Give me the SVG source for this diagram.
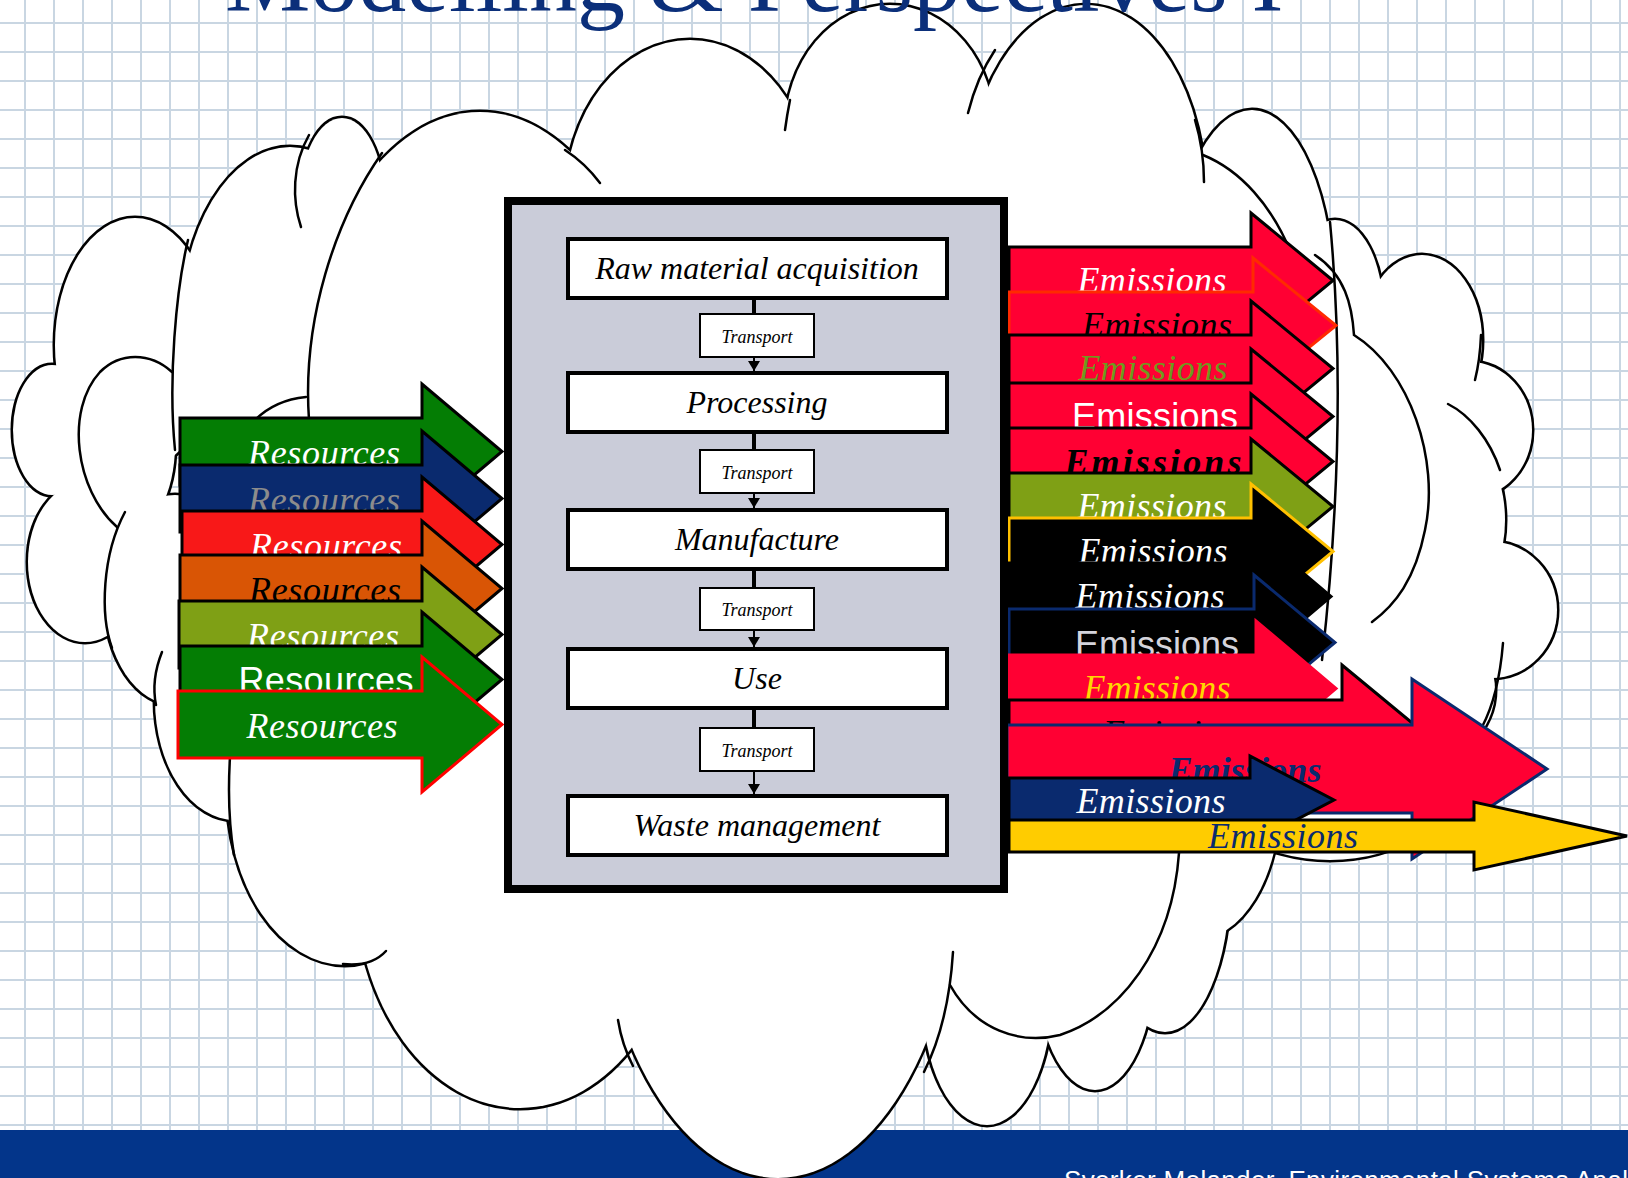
<svg xmlns="http://www.w3.org/2000/svg" xmlns:xlink="http://www.w3.org/1999/xlink" width="1628" height="1178" viewBox="0 0 1628 1178">
<defs>
<pattern id="grid" patternUnits="userSpaceOnUse" x="24" y="22" width="29" height="29">
<rect x="0" y="0" width="2" height="29" fill="#c9d6e2"/>
<rect x="0" y="0" width="29" height="2" fill="#c9d6e2"/>
</pattern>
<g id="lobes">
<ellipse cx="52" cy="430" rx="39" ry="65"/>
<ellipse cx="135" cy="345" rx="80" ry="127"/>
<ellipse cx="125" cy="445" rx="50" ry="90"/>
<ellipse cx="80" cy="490" rx="25" ry="25"/>
<ellipse cx="85" cy="562" rx="57" ry="80"/>
<ellipse cx="175" cy="600" rx="70" ry="105"/>
<ellipse cx="235" cy="700" rx="80" ry="120"/>
<ellipse cx="345" cy="790" rx="118" ry="175"/>
<ellipse cx="520" cy="880" rx="165" ry="228"/>
<ellipse cx="778" cy="840" rx="185" ry="338"/>
<ellipse cx="987" cy="995" rx="65" ry="130"/>
<ellipse cx="1050" cy="850" rx="130" ry="186"/>
<ellipse cx="1095" cy="960" rx="60" ry="130"/>
<ellipse cx="1165" cy="880" rx="65" ry="152"/>
<ellipse cx="1195" cy="800" rx="85" ry="140"/>
<ellipse cx="290" cy="330" rx="110" ry="183"/>
<ellipse cx="342" cy="200" rx="42" ry="82"/>
<ellipse cx="480" cy="390" rx="175" ry="278"/>
<ellipse cx="690" cy="200" rx="125" ry="160"/>
<ellipse cx="890" cy="130" rx="105" ry="125"/>
<ellipse cx="1086" cy="200" rx="120" ry="195"/>
<ellipse cx="1252" cy="300" rx="82" ry="190"/>
<ellipse cx="1280" cy="520" rx="70" ry="230"/>
<ellipse cx="1335" cy="310" rx="48" ry="90"/>
<ellipse cx="1365" cy="415" rx="50" ry="45"/>
<ellipse cx="1422" cy="340" rx="60" ry="85"/>
<ellipse cx="1470" cy="430" rx="62" ry="68"/>
<ellipse cx="1400" cy="520" rx="105" ry="122"/>
<ellipse cx="1365" cy="640" rx="55" ry="55"/>
<ellipse cx="1492" cy="610" rx="65" ry="68"/>
<ellipse cx="1415" cy="690" rx="80" ry="75"/>
<ellipse cx="1330" cy="770" rx="130" ry="90"/>
<ellipse cx="760" cy="560" rx="520" ry="400"/>
</g>
<marker id="ah" markerUnits="userSpaceOnUse" markerWidth="11" markerHeight="12" refX="10" refY="6" orient="auto">
<path d="M0,0 L10,6 L0,12 Z" fill="#000"/>
</marker>
</defs>
<style>
.cloud-s{fill:#fff;stroke:#000;stroke-width:5}
.cloud-f{fill:#fff;stroke:none}
.hook{fill:none;stroke:#000;stroke-width:2.5;stroke-linecap:round}
.arr path{stroke-width:3;stroke-linejoin:miter}
.ti{font-family:"Liberation Serif","Times New Roman",serif;font-style:italic;font-size:36px;text-anchor:middle}
.ts{font-family:"Liberation Sans",Arial,sans-serif;font-size:36px;text-anchor:middle}
.stage rect{fill:#fff;stroke:#000;stroke-width:4}
.stage text{font-family:"Liberation Serif","Times New Roman",serif;font-style:italic;font-size:32px;text-anchor:middle;fill:#000}
.tr rect{fill:#fff;stroke:#000;stroke-width:2}
.tr text{font-family:"Liberation Serif","Times New Roman",serif;font-style:italic;font-size:18px;text-anchor:middle;fill:#000}
.conn-thick{stroke:#000;stroke-width:4}
.conn-arrow{stroke:#000;stroke-width:2;marker-end:url(#ah)}
</style>
<rect x="0" y="0" width="1628" height="1178" fill="#fff"/>
<rect x="0" y="0" width="1628" height="1178" fill="url(#grid)"/>
<g id="footer">
<rect x="0" y="1130" width="1628" height="48" fill="#03358a"/>
<text x="1064" y="1189" font-family="Liberation Sans, Arial, sans-serif" font-size="26" fill="#fff" textLength="564">Sverker Melander, Environmental Systems Anal</text>
</g>
<g id="cloud">
<use xlink:href="#lobes" class="cloud-s"/>
<use xlink:href="#lobes" class="cloud-f"/>
<g class="hook">
<path d="M382,153 C335,220 302,320 309,420"/>
<path d="M309,135 C292,165 292,200 301,227"/>
<path d="M188,240 C176,290 168,380 175,450"/>
<path d="M117,527 C75,490 65,410 100,372 C120,352 150,352 172,372"/>
<path d="M125,512 C102,555 100,615 112,648"/>
<path d="M162,652 C154,672 153,690 156,705"/>
<path d="M230,757 C228,790 229,825 234,855"/>
<path d="M343,964 C362,966 376,962 386,951"/>
<path d="M618,1020 Q622,1045 633,1066"/>
<path d="M953,952 C950,1000 940,1040 924,1072"/>
<path d="M950,985 C975,1030 1020,1045 1060,1035 C1120,1015 1172,950 1179,853"/>
<path d="M790,100 Q787,115 785,130"/>
<path d="M968,113 C975,85 985,65 995,50"/>
<path d="M1195,120 Q1204,150 1204,182"/>
<path d="M1203,155 C1240,170 1272,205 1292,255"/>
<path d="M1481,335 Q1480,360 1475,380"/>
<path d="M1448,404 C1470,415 1490,440 1500,470"/>
<path d="M1315,255 C1345,275 1352,305 1354,335 C1410,370 1440,460 1425,530 C1415,580 1395,605 1372,622"/>
<path d="M1503,643 C1500,680 1492,708 1482,727"/>
<path d="M1330,222 C1342,350 1340,500 1322,660"/>
<path d="M255,420 Q275,400 306,397"/>
<path d="M565,150 Q585,163 600,183"/>
</g>
</g>
<g id="resources" class="arr">
<g id="res1"><path d="M180,418 H422 V384 L502,451.5 L422,519 V485 H180 Z" fill="#047d04" stroke="#000"/><text class="ti" x="324" y="465" fill="#fff" textLength="152">Resources</text></g>
<g id="res2"><path d="M180,465 H422 V431 L502,498.5 L422,566 V532 H180 Z" fill="#0a2a6e" stroke="#000"/><text class="ti" x="324" y="512" fill="#8c8c8c" textLength="152">Resources</text></g>
<g id="res3"><path d="M182,511 H422 V477 L502,544.5 L422,612 V578 H182 Z" fill="#f81818" stroke="#000"/><text class="ti" x="326" y="558" fill="#fff" textLength="152">Resources</text></g>
<g id="res4"><path d="M180,555 H422 V521 L502,588.5 L422,656 V622 H180 Z" fill="#d95505" stroke="#000"/><text class="ti" x="325" y="602" fill="#000" textLength="152">Resources</text></g>
<g id="res5"><path d="M179,601 H422 V567 L502,634.5 L422,702 V668 H179 Z" fill="#7fa015" stroke="#000"/><text class="ti" x="323" y="648" fill="#fff" textLength="152">Resources</text></g>
<g id="res6"><path d="M180,646 H422 V612 L502,679.5 L422,747 V713 H180 Z" fill="#047d04" stroke="#000"/><text class="ts" x="326" y="693" fill="#fff" textLength="175">Resources</text></g>
<g id="res7"><path d="M178,691 H422 V657 L502,724.5 L422,792 V758 H178 Z" fill="#047d04" stroke="#ff0000"/><text class="ti" x="322" y="738" fill="#fff" textLength="151">Resources</text></g>
</g>
<g id="emissions" class="arr">
<g id="em1"><path d="M1009,247 H1251 V213 L1333,280.5 L1251,348 V314 H1009 Z" fill="#ff0033" stroke="#000"/><text class="ti" x="1152" y="292" fill="#fff" textLength="149">Emissions</text></g>
<g id="em2"><path d="M1009,292 H1253 V258 L1336,325.5 L1253,393 V359 H1009 Z" fill="#ff0033" stroke="#ff2a00"/><text class="ti" x="1157" y="337" fill="#000" textLength="150">Emissions</text></g>
<g id="em3"><path d="M1009,335 H1251 V301 L1333,368.5 L1251,436 V402 H1009 Z" fill="#ff0033" stroke="#000"/><text class="ti" x="1153" y="380" fill="#6e9a1e" textLength="149">Emissions</text></g>
<g id="em4"><path d="M1009,383 H1251 V349 L1333,416.5 L1251,484 V450 H1009 Z" fill="#ff0033" stroke="#000"/><text class="ts" x="1155" y="429" fill="#fff" textLength="166">Emissions</text></g>
<g id="em5"><path d="M1009,428 H1251 V394 L1333,461.5 L1251,529 V495 H1009 Z" fill="#ff0033" stroke="#000"/><text class="ti" x="1153" y="474" fill="#000" font-weight="bold" font-size="41" textLength="177">Emissions</text></g>
<g id="em6"><path d="M1009,473 H1251 V439 L1333,506.5 L1251,574 V540 H1009 Z" fill="#7fa015" stroke="#000"/><text class="ti" x="1152" y="518" fill="#fff" textLength="149">Emissions</text></g>
<g id="em7"><path d="M1009,518 H1251 V484 L1333,551.5 L1251,619 V585 H1009 Z" fill="#000" stroke="#ffc000"/><text class="ti" x="1153" y="563" fill="#fff" textLength="149">Emissions</text></g>
<g id="em8"><path d="M1009,563 H1251 V529 L1331,596.5 L1251,664 V630 H1009 Z" fill="#000" stroke="#000"/><text class="ti" x="1150" y="608" fill="#fff" textLength="149">Emissions</text></g>
<g id="em9"><path d="M1009,609 H1254 V575 L1335,642.5 L1254,710 V676 H1009 Z" fill="#000" stroke="#0a2a6e"/><text class="ts" x="1157" y="657" fill="#d4d4dc" font-size="42">Emissions</text></g>
<g id="em10"><path d="M1009,655 H1256 V621 L1336,688.5 L1256,756 V722 H1009 Z" fill="#ff0033" stroke="#ff0033"/><text class="ti" x="1157" y="700" fill="#ffd700" textLength="147">Emissions</text></g>
<g id="em11"><path d="M1009,700 H1342 V665 L1425,733.5 L1342,802 V767 H1009 Z" fill="#ff0033" stroke="#000"/><text class="ti" x="1178" y="745" fill="#000" textLength="150">Emissions</text></g>
<g id="em12"><path d="M1007,725 H1412 V679 L1547,769 L1412,859 V813 H1007 Z" fill="#ff0033" stroke="#0a2a6e"/><text class="ti" x="1245" y="782" fill="#0a2a6e" font-weight="bold" textLength="153">Emissions</text></g>
<g id="em13"><path d="M1009,778 H1250 V756 L1334,800 L1250,844 V822 H1009 Z" fill="#0a2a6e" stroke="#000"/><text class="ti" x="1151" y="813" fill="#fff" textLength="149">Emissions</text></g>
<g id="em14"><path d="M1009,820 H1474 V802 L1627,836 L1474,870 V852 H1009 Z" fill="#ffcc00" stroke="#000"/><text class="ti" x="1283" y="848" fill="#0a2a6e" font-size="37" textLength="150">Emissions</text></g>
</g>
<g id="system">
<rect x="508" y="201" width="496" height="688" fill="#caccd9" stroke="#000" stroke-width="8"/>
</g>
<g id="connectors">
<line class="conn-thick" x1="754" y1="300" x2="754" y2="313"/>
<line class="conn-arrow" x1="754" y1="357" x2="754" y2="371"/>
<line class="conn-thick" x1="754" y1="434" x2="754" y2="449"/>
<line class="conn-arrow" x1="754" y1="493" x2="754" y2="508"/>
<line class="conn-thick" x1="754" y1="571" x2="754" y2="587"/>
<line class="conn-arrow" x1="754" y1="630" x2="754" y2="647"/>
<line class="conn-thick" x1="754" y1="710" x2="754" y2="727"/>
<line class="conn-arrow" x1="754" y1="771" x2="754" y2="794"/>
</g>
<g id="stage-raw" class="stage"><rect x="568" y="239" width="379" height="59"/><text x="757" y="279">Raw material acquisition</text></g>
<g id="stage-processing" class="stage"><rect x="568" y="373" width="379" height="59"/><text x="757" y="413">Processing</text></g>
<g id="stage-manufacture" class="stage"><rect x="568" y="510" width="379" height="59"/><text x="757" y="550">Manufacture</text></g>
<g id="stage-use" class="stage"><rect x="568" y="649" width="379" height="59"/><text x="757" y="689">Use</text></g>
<g id="stage-waste" class="stage"><rect x="568" y="796" width="379" height="59"/><text x="757" y="836">Waste management</text></g>
<g id="transport1" class="tr"><rect x="700" y="314" width="114" height="43"/><text x="757" y="343">Transport</text></g>
<g id="transport2" class="tr"><rect x="700" y="450" width="114" height="43"/><text x="757" y="479">Transport</text></g>
<g id="transport3" class="tr"><rect x="700" y="588" width="114" height="42"/><text x="757" y="616">Transport</text></g>
<g id="transport4" class="tr"><rect x="700" y="728" width="114" height="43"/><text x="757" y="757">Transport</text></g>
<g id="title">
<text x="225" y="11" font-family="Liberation Serif, Times New Roman, serif" font-size="96" fill="#0b2f7a">Modelling &amp; Perspectives I</text>
</g>
</svg>
